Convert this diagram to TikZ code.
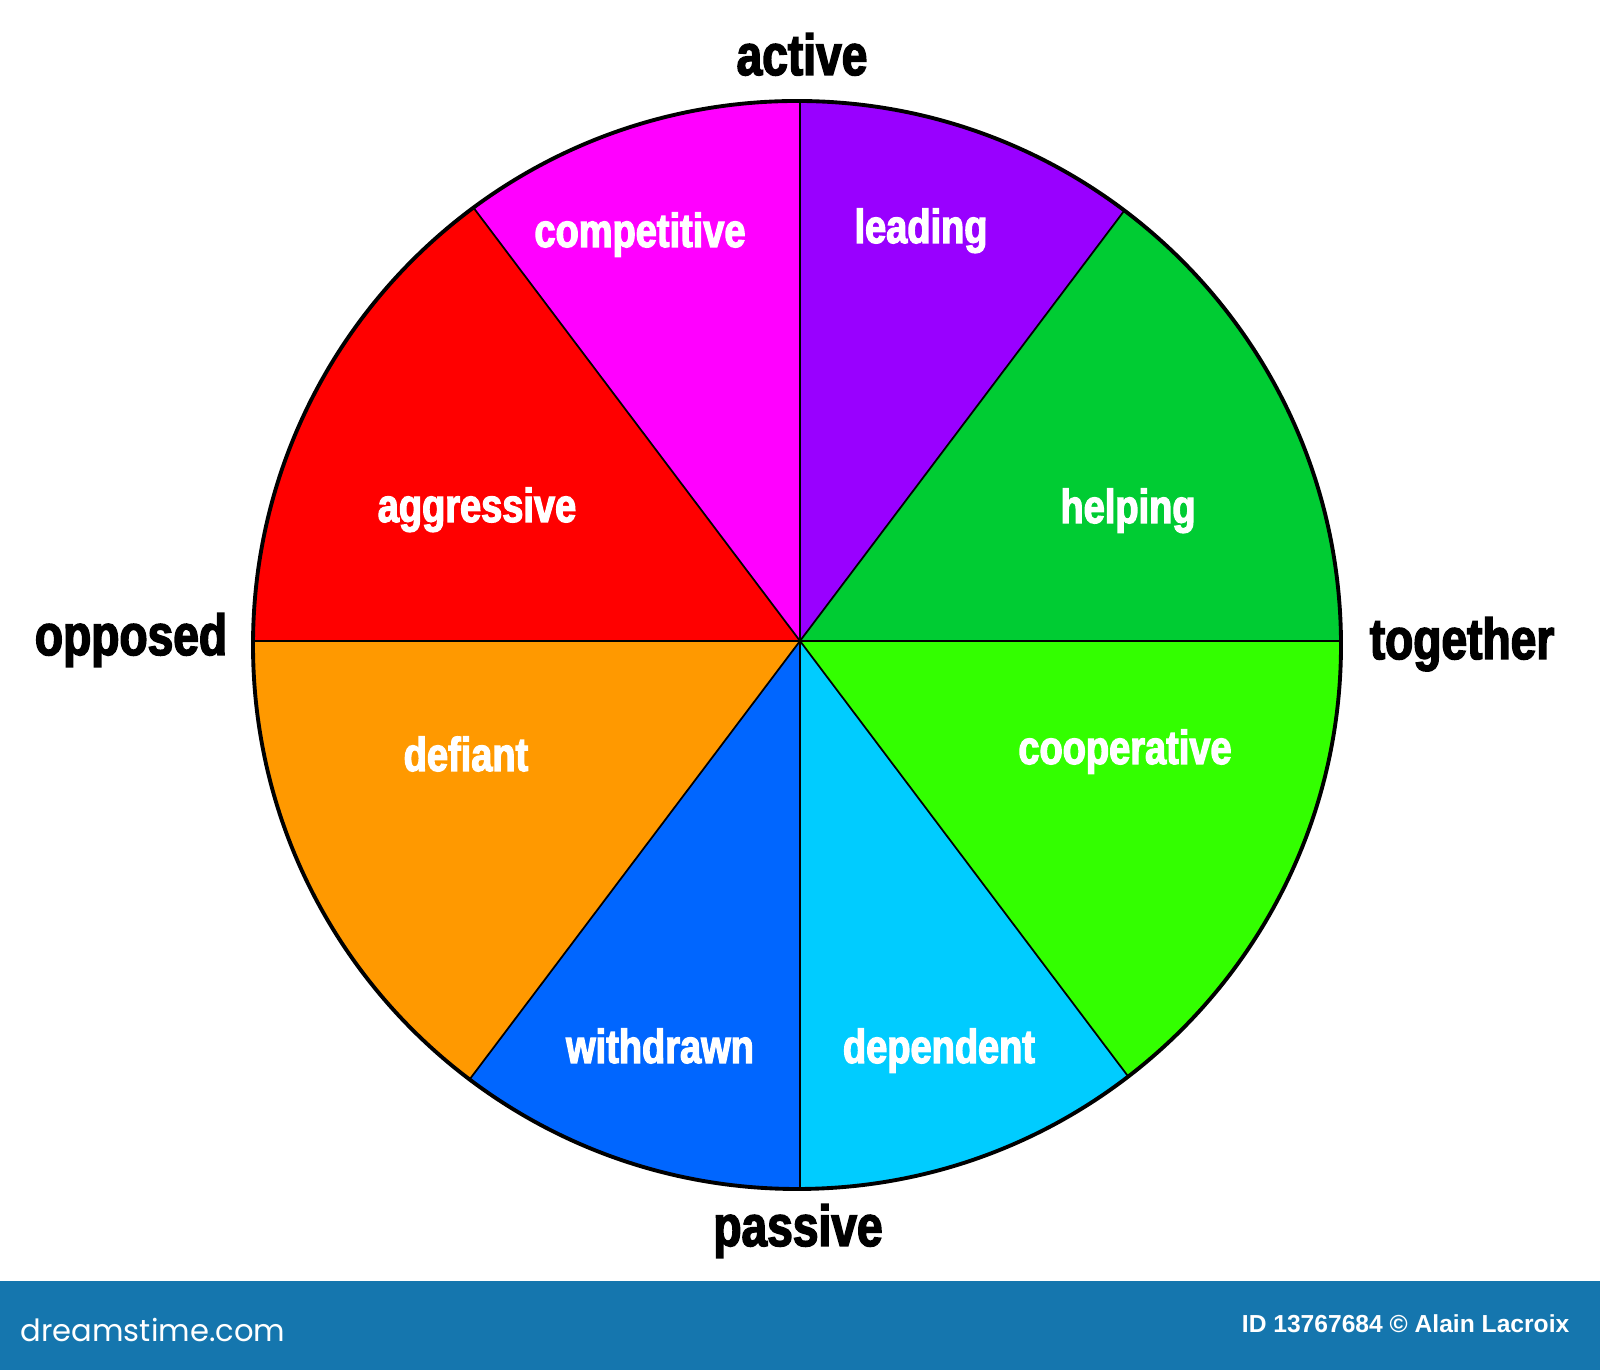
\documentclass[tikz,border=0pt]{standalone}
\usepackage{fontspec}
\setmainfont{Liberation Sans}
\newfontfamily\impact{Liberation Sans Bold}[FakeStretch=0.8,FakeBold=2.6]
\newfontfamily\idfont{Liberation Sans Bold}
\newfontfamily\logofont{Poppins}
\definecolor{cMag}{HTML}{FF00FF}
\definecolor{cPur}{HTML}{9900FF}
\definecolor{cGrn}{HTML}{00CC33}
\definecolor{cLime}{HTML}{33FF00}
\definecolor{cSky}{HTML}{00CCFF}
\definecolor{cBlue}{HTML}{0066FF}
\definecolor{cOrg}{HTML}{FF9900}
\definecolor{cRed}{HTML}{FF0000}
\definecolor{cBar}{HTML}{1576AE}
\tikzset{
  outerlbl/.style={anchor=base, inner sep=0pt, font=\impact\fontsize{16.4}{18}\selectfont, text=black},
  innerlbl/.style={anchor=base, inner sep=0pt, font=\impact\fontsize{13.5}{15}\selectfont, text=white},
  divider/.style={draw=black, line width=0.5pt},
  rim/.style={draw=black, line width=1.1pt}
}
\begin{document}
\begin{tikzpicture}[x=0.01cm,y=0.01cm]
\useasboundingbox (0,0) rectangle (1600,1370);
\fill[white] (0,0) rectangle (1600,1370);
\coordinate (cc) at (797,725);
\coordinate (hub) at (800,729);
\begin{scope}
  \clip (cc) circle[radius=544];
  \foreach \a/\b/\col in {0/53/cGrn, 53/90/cPur, 90/127/cMag, 127/180/cRed, 180/233/cOrg, 233/270/cBlue, 270/307/cSky, 307/360/cLime}{
    \fill[\col] (hub) -- ++(\a:800) arc[start angle=\a, end angle=\b, radius=800] -- cycle;
  }
  \foreach \a in {0,53,90,127,180,233,270,307}{
    \draw[divider] (hub) -- ++(\a:800);
  }
\end{scope}
\draw[rim] (cc) circle[radius=544];
% inner labels
\node[innerlbl] (competitive) at (640,1123) {competitive};
\node[innerlbl] (leading) at (921,1127) {leading};
\node[innerlbl] (aggressive) at (477,848) {aggressive};
\node[innerlbl] (helping) at (1128,847) {helping};
\node[innerlbl] (defiant) at (466,599) {defiant};
\node[innerlbl] (cooperative) at (1125,606) {cooperative};
\node[innerlbl] (withdrawn) at (660,307) {withdrawn};
\node[innerlbl] (dependent) at (939,307) {dependent};
% outer labels
\node[outerlbl] (active) at (802,1295) {active};
\node[outerlbl] (opposed) at (131,715) {opposed};
\node[outerlbl] (together) at (1462,711) {together};
\node[outerlbl] (passive) at (798,124) {passive};
% bottom bar
\fill[cBar] (0,0) rectangle (1600,89);
\node[anchor=base west, inner sep=0pt, text=white, font=\logofont\fontsize{8.7}{10}\selectfont] (logo) at (20,28) {dreamstime.com};
\node[anchor=base east, inner sep=0pt, text=white, font=\idfont\fontsize{7}{8}\selectfont] (credit) at (1570,37) {ID 13767684 © Alain Lacroix};
\end{tikzpicture}
\end{document}
